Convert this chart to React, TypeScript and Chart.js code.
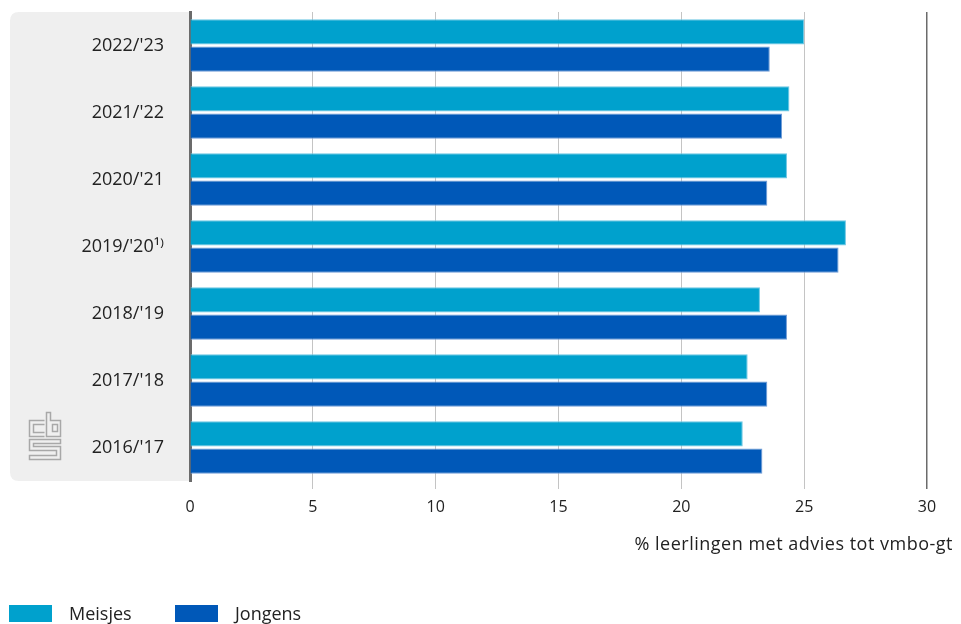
import React, { useEffect, useRef } from "react";
import { Chart, registerables } from "chart.js";

Chart.register(...registerables);

const categories = ["2022/'23", "2021/'22", "2020/'21", "2019/'20¹⁾", "2018/'19", "2017/'18", "2016/'17"];
const meisjes = [25.0, 24.4, 24.3, 26.7, 23.2, 22.7, 22.5];
const jongens = [23.6, 24.1, 23.5, 26.4, 24.3, 23.5, 23.3];
const seriesNames = ["Meisjes", "Jongens"];
const xTitle = "% leerlingen met advies tot vmbo-gt";
const xTicks = [0, 5, 10, 15, 20, 25, 30];

const C_MEISJES = "#00a1cd";
const C_JONGENS = "#0058b8";
const FONT = "'Open Sans', 'Noto Sans', sans-serif";

const panelPlugin = {
  id: "panel",
  beforeDraw(chart: any) {
    const ctx = chart.ctx;
    const { top, bottom, left } = chart.chartArea;
    const x0 = 10;
    const r = 9;
    ctx.save();
    ctx.fillStyle = "#efefef";
    ctx.beginPath();
    ctx.moveTo(left, top);
    ctx.lineTo(x0 + r, top);
    ctx.quadraticCurveTo(x0, top, x0, top + r);
    ctx.lineTo(x0, bottom - r);
    ctx.quadraticCurveTo(x0, bottom, x0 + r, bottom);
    ctx.lineTo(left, bottom);
    ctx.closePath();
    ctx.fill();

    // CBS logo (decorative)
    ctx.strokeStyle = "#a8a8a8";
    ctx.lineWidth = 1.5;
    const lx = 29.5;
    const ly = 412.5;
    // "c"
    ctx.beginPath();
    ctx.moveTo(lx + 15, ly + 8);
    ctx.lineTo(lx, ly + 8);
    ctx.lineTo(lx, ly + 24);
    ctx.lineTo(lx + 15, ly + 24);
    ctx.moveTo(lx + 15, ly + 12);
    ctx.lineTo(lx + 4, ly + 12);
    ctx.lineTo(lx + 4, ly + 20);
    ctx.lineTo(lx + 15, ly + 20);
    ctx.stroke();
    // "b"
    ctx.beginPath();
    ctx.moveTo(lx + 17, ly);
    ctx.lineTo(lx + 17, ly + 24);
    ctx.lineTo(lx + 31, ly + 24);
    ctx.lineTo(lx + 31, ly + 8);
    ctx.lineTo(lx + 21, ly + 8);
    ctx.lineTo(lx + 21, ly);
    ctx.closePath();
    ctx.stroke();
    ctx.strokeRect(lx + 23, ly + 12, 5, 7);
    // "S"
    ctx.beginPath();
    ctx.moveTo(lx + 31, ly + 27);
    ctx.lineTo(lx, ly + 27);
    ctx.lineTo(lx, ly + 38);
    ctx.lineTo(lx + 27, ly + 38);
    ctx.lineTo(lx + 27, ly + 43);
    ctx.lineTo(lx, ly + 43);
    ctx.lineTo(lx, ly + 47);
    ctx.lineTo(lx + 31, ly + 47);
    ctx.lineTo(lx + 31, ly + 34);
    ctx.lineTo(lx + 4, ly + 34);
    ctx.lineTo(lx + 4, ly + 31);
    ctx.lineTo(lx + 31, ly + 31);
    ctx.closePath();
    ctx.stroke();
    ctx.restore();
  },
};

export default function App() {
  const ref = useRef<HTMLCanvasElement | null>(null);

  useEffect(() => {
    document.body.style.margin = "0";
    const canvas = ref.current;
    if (!canvas) return;
    const chart = new Chart(canvas, {
      type: "bar",
      data: {
        labels: categories,
        datasets: [
          {
            label: seriesNames[0],
            data: meisjes,
            backgroundColor: C_MEISJES,
            borderColor: "#6cc6e3",
            borderWidth: 1,
            categoryPercentage: 0.81,
            barPercentage: 0.93,
          },
          {
            label: seriesNames[1],
            data: jongens,
            backgroundColor: C_JONGENS,
            borderColor: "#6f9bd6",
            borderWidth: 1,
            categoryPercentage: 0.81,
            barPercentage: 0.93,
          },
        ],
      },
      options: {
        indexAxis: "y",
        animation: false,
        responsive: false,
        maintainAspectRatio: false,
        layout: { padding: { top: 12, right: 34, left: 0, bottom: 0 } },
        plugins: {
          legend: { display: false },
          tooltip: { enabled: false },
        },
        scales: {
          x: {
            min: 0,
            max: 30,
            afterBuildTicks(scale: any) {
              scale.ticks = xTicks.map((v) => ({ value: v }));
            },
            afterFit(scale: any) {
              scale.height = 143;
              scale.paddingLeft = 0;
              scale.paddingRight = 0;
            },
            grid: {
              color: (c: any) => (c.tick && c.tick.value === 30 ? "#6b6b6b" : c.tick && c.tick.value === 0 ? "rgba(0,0,0,0)" : "#c4c4c4"),
              lineWidth: (c: any) => (c.tick && c.tick.value === 30 ? 1.5 : 1),
              tickLength: 8,
              drawTicks: true,
            },
            border: { display: false },
            ticks: {
              color: "#222",
              padding: 9,
              font: { family: FONT, size: 16 },
            },
          },
          y: {
            afterFit(scale: any) {
              scale.width = 190;
              scale.paddingTop = 0;
              scale.paddingBottom = 0;
            },
            grid: { display: false, drawTicks: false },
            border: { display: true, color: "#6b6b6b", width: 3 },
            ticks: {
              color: "#222",
              padding: 26,
              font: { family: FONT, size: 18 },
            },
          },
        },
      },
      plugins: [panelPlugin],
    });
    return () => chart.destroy();
  }, []);

  const legendText: React.CSSProperties = {
    position: "absolute",
    top: 601,
    fontFamily: FONT,
    fontSize: 18,
    color: "#222",
    lineHeight: "24px",
  };

  return (
    <div style={{ position: "relative", width: 961, height: 624, background: "#fff" }}>
      <canvas ref={ref} width={961} height={624} style={{ position: "absolute", left: 0, top: 0 }} />
      <div
        style={{
          position: "absolute",
          right: 8,
          top: 531,
          fontFamily: FONT,
          fontSize: 18,
          letterSpacing: "0.5px",
          lineHeight: "24px",
          color: "#222",
          whiteSpace: "nowrap",
        }}
      >
        {xTitle}
      </div>
      <div style={{ position: "absolute", left: 9, top: 605, width: 43, height: 17, background: C_MEISJES }} />
      <div style={{ ...legendText, left: 69 }}>{seriesNames[0]}</div>
      <div style={{ position: "absolute", left: 175, top: 605, width: 43, height: 17, background: C_JONGENS }} />
      <div style={{ ...legendText, left: 235 }}>{seriesNames[1]}</div>
    </div>
  );
}
